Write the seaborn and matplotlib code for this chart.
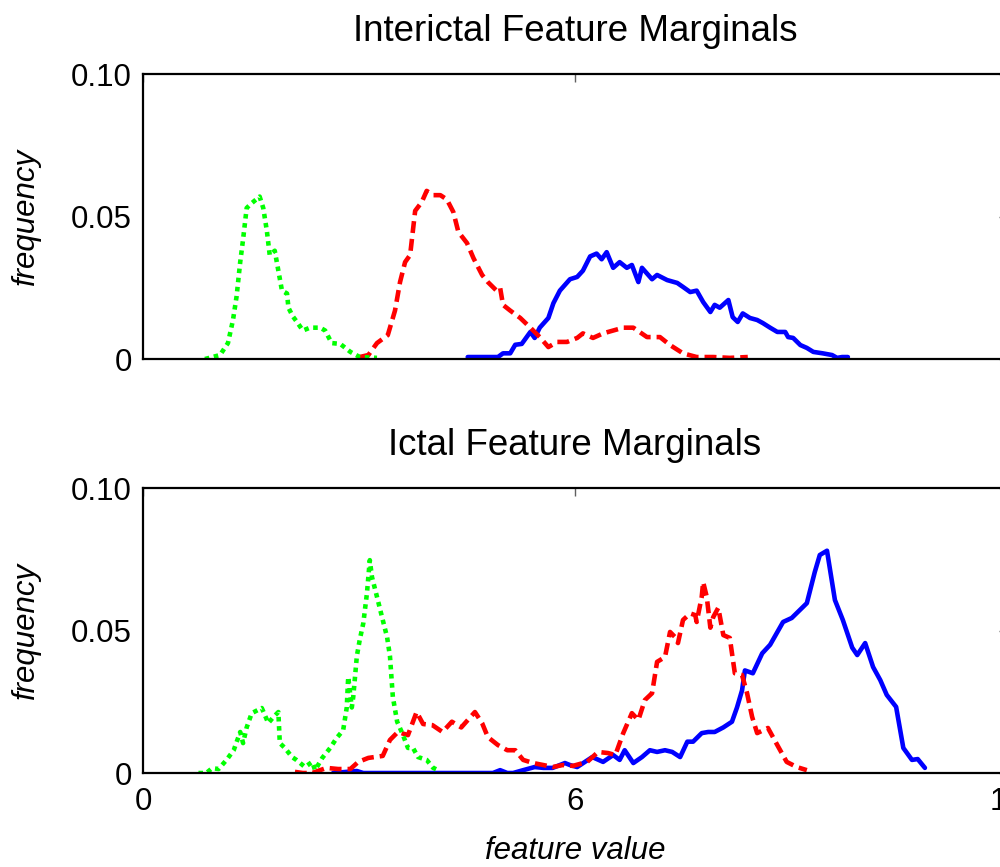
import numpy as np
import pandas as pd
import matplotlib
matplotlib.use("Agg")
import matplotlib.pyplot as plt
import seaborn as sns

# ---------------- data ----------------
titles = ["Interictal Feature Marginals", "Ictal Feature Marginals"]
x_ticks = [0, 6, 12]
x_ticklabels = ["0", "6", "12"]
y_ticks = [0, 0.05, 0.10]
y_ticklabels = ["0", "0.05", "0.10"]
series_names = ["blue", "red", "green"]

# Interictal (top)
inter_green_x = [0.86, 1.07, 1.18, 1.25, 1.30, 1.35, 1.39, 1.44, 1.51, 1.62, 1.67, 1.72, 1.76, 1.83,
                 1.88, 1.93, 2.00, 2.02, 2.08, 2.15, 2.22, 2.32, 2.46, 2.53, 2.62, 2.74, 2.88, 3.01, 3.25]
inter_green_y = [0.0, 0.0014, 0.0056, 0.0137, 0.022, 0.034, 0.042, 0.053, 0.0547, 0.057, 0.053, 0.045,
                 0.0365, 0.038, 0.031, 0.024, 0.023, 0.018, 0.015, 0.0126, 0.010, 0.011, 0.011, 0.010,
                 0.0056, 0.0053, 0.0025, 0.0007, 0.0004]

inter_red_x = [3.01, 3.13, 3.25, 3.40, 3.50, 3.57, 3.64, 3.71, 3.78, 3.87, 3.94, 4.03, 4.13, 4.22, 4.31,
               4.38, 4.50, 4.59, 4.71, 4.79, 4.91, 4.96, 5.00, 5.10, 5.24, 5.38, 5.51, 5.63, 5.75, 5.89,
               6.03, 6.11, 6.25, 6.39, 6.53, 6.67, 6.81, 7.00, 7.18, 7.32, 7.50, 7.69, 7.92, 8.15, 8.40]
inter_red_y = [0.0007, 0.0014, 0.0056, 0.0084, 0.017, 0.027, 0.034, 0.0365, 0.052, 0.055, 0.059, 0.0575,
               0.0575, 0.056, 0.0516, 0.0446, 0.0407, 0.0354, 0.0295, 0.027, 0.024, 0.025, 0.019, 0.017,
               0.0144, 0.011, 0.0077, 0.0042, 0.006, 0.006, 0.0074, 0.009, 0.0074, 0.009, 0.010, 0.011,
               0.011, 0.0077, 0.0077, 0.0049, 0.002, 0.0007, 0.0007, 0.0004, 0.0007]

inter_blue_x = [4.51, 4.93, 5.00, 5.10, 5.17, 5.26, 5.38, 5.44, 5.51, 5.63, 5.70, 5.79, 5.93, 6.03, 6.11,
                6.21, 6.30, 6.37, 6.44, 6.53, 6.62, 6.72, 6.79, 6.88, 6.93, 7.07, 7.14, 7.28, 7.42, 7.50,
                7.60, 7.69, 7.78, 7.88, 7.94, 8.01, 8.13, 8.19, 8.26, 8.33, 8.43, 8.53, 8.61, 8.71, 8.81,
                8.92, 8.96, 9.03, 9.13, 9.22, 9.31, 9.44, 9.57, 9.64, 9.71, 9.79]
inter_blue_y = [0.0007, 0.0007, 0.002, 0.002, 0.005, 0.0053, 0.0095, 0.0074, 0.011, 0.0144, 0.0196, 0.024,
                0.028, 0.0288, 0.031, 0.036, 0.037, 0.035, 0.0375, 0.032, 0.034, 0.032, 0.033, 0.027,
                0.032, 0.028, 0.0295, 0.0277, 0.0267, 0.0253, 0.0235, 0.024, 0.020, 0.0165, 0.019, 0.018,
                0.0207, 0.0147, 0.013, 0.016, 0.0144, 0.0137, 0.0126, 0.011, 0.0095, 0.0095, 0.0077,
                0.0074, 0.0049, 0.0039, 0.0025, 0.002, 0.0014, 0.0004, 0.0007, 0.0007]

# Ictal (bottom)
ict_green_x = [0.77, 0.88, 0.96, 1.05, 1.16, 1.26, 1.35, 1.39, 1.44, 1.51, 1.65, 1.74, 1.81, 1.88, 1.90,
               1.97, 2.07, 2.13, 2.25, 2.35, 2.39, 2.49, 2.60, 2.69, 2.78, 2.83, 2.85, 2.90, 2.92, 2.97,
               3.01, 3.06, 3.11, 3.15, 3.18, 3.25, 3.32, 3.39, 3.43, 3.47, 3.53, 3.60, 3.68, 3.75, 3.82,
               3.94, 4.03, 4.10]
ict_green_y = [0.0, 0.0, 0.0017, 0.0014, 0.0046, 0.008, 0.0144, 0.0105, 0.016, 0.021, 0.0228, 0.0175,
               0.0196, 0.0214, 0.0105, 0.0088, 0.0056, 0.0046, 0.0021, 0.0039, 0.001, 0.0053, 0.0088,
               0.0123, 0.015, 0.023, 0.0337, 0.023, 0.0267, 0.041, 0.0467, 0.0526, 0.063, 0.0747, 0.0688,
               0.0618, 0.0547, 0.0477, 0.041, 0.0267, 0.018, 0.014, 0.0088, 0.0088, 0.0056, 0.0046,
               0.0018, 0.001]

ict_red_x = [2.11, 2.22, 2.35, 2.46, 2.55, 2.71, 2.88, 2.99, 3.13, 3.33, 3.43, 3.54, 3.68, 3.80, 3.89,
             4.02, 4.16, 4.29, 4.42, 4.61, 4.71, 4.79, 4.93, 5.06, 5.17, 5.28, 5.42, 5.56, 5.69, 5.83,
             5.97, 6.17, 6.32, 6.46, 6.56, 6.67, 6.79, 6.88, 6.97, 7.07, 7.14, 7.25, 7.32, 7.39, 7.43,
             7.50, 7.60, 7.67, 7.69, 7.76, 7.78, 7.83, 7.88, 7.92, 7.99, 8.06, 8.15, 8.22, 8.32, 8.39,
             8.46, 8.53, 8.68, 8.81, 8.94, 9.08, 9.22]
ict_red_y = [0.0004, 0.0, 0.0, 0.001, 0.0018, 0.0014, 0.0014, 0.0039, 0.0053, 0.006, 0.0116, 0.0144,
             0.0133, 0.0214, 0.0172, 0.0168, 0.0144, 0.018, 0.016, 0.0214, 0.0175, 0.0126, 0.0098, 0.008,
             0.008, 0.0046, 0.0035, 0.0028, 0.0021, 0.0028, 0.0025, 0.0039, 0.0074, 0.007, 0.0063, 0.014,
             0.021, 0.0186, 0.0256, 0.028, 0.039, 0.0407, 0.0495, 0.0477, 0.0456, 0.0537, 0.056, 0.0554,
             0.053, 0.0618, 0.067, 0.0618, 0.051, 0.0547, 0.058, 0.0484, 0.0474, 0.035, 0.0344, 0.028,
             0.0197, 0.014, 0.0158, 0.0098, 0.0039, 0.0021, 0.001]

ict_blue_x = [2.64, 2.97, 3.06, 4.86, 4.96, 5.06, 5.14, 5.28, 5.44, 5.56, 5.69, 5.86, 5.93, 6.03, 6.24,
              6.39, 6.53, 6.62, 6.69, 6.81, 6.93, 7.04, 7.14, 7.25, 7.35, 7.46, 7.56, 7.64, 7.76, 7.85,
              7.94, 8.06, 8.18, 8.25, 8.32, 8.36, 8.47, 8.60, 8.71, 8.89, 9.01, 9.22, 9.33, 9.40, 9.50,
              9.61, 9.72, 9.85, 9.92, 10.03, 10.14, 10.24, 10.33, 10.46, 10.56, 10.68, 10.76, 10.86]
ict_blue_y = [0.0, 0.0007, 0.0, 0.0, 0.001, 0.0, 0.0, 0.001, 0.0021, 0.0018, 0.0018, 0.0035, 0.0028,
              0.0021, 0.0056, 0.0039, 0.0063, 0.0046, 0.008, 0.0035, 0.0056, 0.008, 0.0074, 0.008, 0.0074,
              0.0056, 0.011, 0.011, 0.014, 0.0144, 0.0144, 0.016, 0.018, 0.023, 0.029, 0.036, 0.035,
              0.042, 0.045, 0.053, 0.0544, 0.0596, 0.0705, 0.0765, 0.078, 0.0607, 0.0537, 0.044, 0.0414,
              0.0456, 0.0372, 0.0326, 0.0274, 0.0232, 0.0088, 0.0046, 0.0049, 0.0018]


def make_df(bx, by, rx, ry, gx, gy):
    parts = []
    for name, xs, ys in zip(series_names, [bx, rx, gx], [by, ry, gy]):
        parts.append(pd.DataFrame({"x": xs, "freq": ys, "series": name}))
    return pd.concat(parts, ignore_index=True)


panels = [
    make_df(inter_blue_x, inter_blue_y, inter_red_x, inter_red_y, inter_green_x, inter_green_y),
    make_df(ict_blue_x, ict_blue_y, ict_red_x, ict_red_y, ict_green_x, ict_green_y),
]

# ---------------- style ----------------
sns.set_theme(style="white")
plt.rcParams["font.family"] = ["Liberation Sans", "DejaVu Sans"]
plt.rcParams["text.color"] = "black"
plt.rcParams["axes.labelcolor"] = "black"
plt.rcParams["xtick.color"] = "black"
plt.rcParams["ytick.color"] = "black"

palette = {"blue": (0, 0, 1), "red": (1, 0, 0), "green": (0, 1, 0)}
dashes = {"blue": "", "red": (2.6, 1.3), "green": (1.0, 1.0)}

fig = plt.figure(figsize=(10, 8.67), dpi=100)
ax_rects = [
    [0.143, 0.5859, 0.864, 0.3287],
    [0.143, 0.1084, 0.864, 0.3287],
]

for i, (df, rect) in enumerate(zip(panels, ax_rects)):
    ax = fig.add_axes(rect)
    sns.lineplot(data=df, x="x", y="freq", hue="series", style="series",
                 hue_order=series_names, style_order=series_names,
                 palette=palette, dashes=dashes, estimator=None, sort=False,
                 legend=False, linewidth=3.3, ax=ax)
    ax.set_xlim(0, 12)
    ax.set_ylim(0, 0.10)
    ax.set_xticks(x_ticks)
    ax.set_yticks(y_ticks)
    ax.set_yticklabels(y_ticklabels)
    if i == 1:
        ax.set_xticklabels(x_ticklabels)
        ax.set_xlabel("feature value", fontsize=22.5, style="italic", labelpad=14)
    else:
        ax.set_xticklabels([])
        ax.set_xlabel("")
    ax.set_ylabel("frequency", fontsize=22.5, style="italic", labelpad=22)
    ax.set_title(titles[i], fontsize=26.5, pad=24, color="black")
    ax.tick_params(axis="both", which="both", direction="in", length=6, width=1,
                   color="#606060", labelsize=22.5, labelcolor="black",
                   top=True, right=True, pad=8)
    ax.tick_params(axis="x", pad=10)
    for sp in ax.spines.values():
        sp.set_visible(True)
        sp.set_color("black")
        sp.set_linewidth(1.6)
    ax.set_facecolor("white")

fig.savefig("out.png", dpi=100, facecolor="white")
